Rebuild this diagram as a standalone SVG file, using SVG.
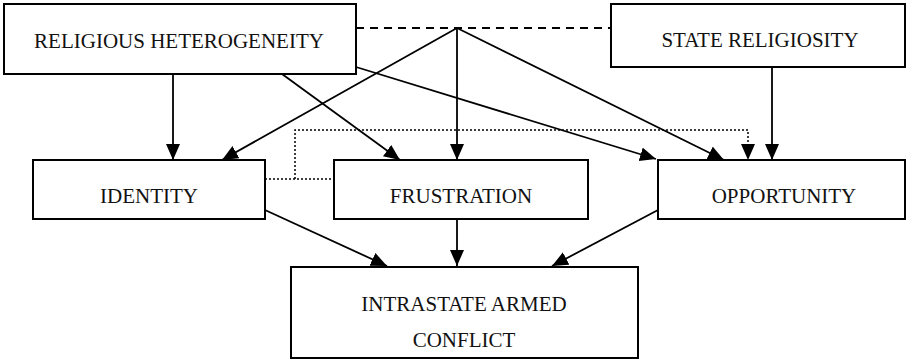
<svg xmlns="http://www.w3.org/2000/svg" width="910" height="362" viewBox="0 0 910 362">
<style>
.box{fill:#fff;stroke:#000;stroke-width:2}
.lbl{font-family:"Liberation Serif","Times New Roman",serif;font-size:21px;fill:#111;text-anchor:middle}
.c{stroke:#000;stroke-width:1.8;fill:none}
.arr{marker-end:url(#ah)}
.dash{stroke-dasharray:8,6}
.dot{stroke-dasharray:2,2;stroke-width:1.5}
</style>
<defs>
<marker id="ah" markerUnits="userSpaceOnUse" markerWidth="17" markerHeight="15" refX="16" refY="7" orient="auto">
<path d="M0,0 L16,7 L0,14 z" fill="#000"/>
</marker>
</defs>
<rect width="910" height="362" fill="#fff"/>
<g id="connectors">
<line class="c dash" x1="356" y1="28" x2="611" y2="28"/>
<line class="c arr" x1="173" y1="74" x2="173" y2="160"/>
<line class="c arr" x1="282" y1="74" x2="400" y2="160"/>
<line class="c arr" x1="356" y1="67" x2="656" y2="159"/>
<line class="c arr" x1="457" y1="28" x2="222" y2="160"/>
<line class="c arr" x1="457" y1="28" x2="457" y2="160"/>
<line class="c arr" x1="457" y1="28" x2="724" y2="160"/>
<line class="c arr" x1="772" y1="67" x2="772" y2="160"/>
<path class="c dot" d="M265,179 H334"/>
<path class="c dot arr" d="M295,179 V130 H748 V160"/>
<line class="c arr" x1="265" y1="210" x2="387" y2="266"/>
<line class="c arr" x1="457" y1="219" x2="457" y2="266"/>
<line class="c arr" x1="658" y1="210" x2="552" y2="266"/>
</g>
<g id="religious-heterogeneity">
<rect class="box" x="4" y="4" width="352" height="70"/>
<text class="lbl" x="179" y="48">RELIGIOUS HETEROGENEITY</text>
</g>
<g id="state-religiosity">
<rect class="box" x="611" y="4" width="294" height="63"/>
<text class="lbl" x="760" y="47">STATE RELIGIOSITY</text>
</g>
<g id="identity">
<rect class="box" x="33" y="160" width="232" height="59"/>
<text class="lbl" x="149" y="203">IDENTITY</text>
</g>
<g id="frustration">
<rect class="box" x="334" y="160" width="254" height="59"/>
<text class="lbl" x="461" y="203">FRUSTRATION</text>
</g>
<g id="opportunity">
<rect class="box" x="658" y="160" width="247" height="59"/>
<text class="lbl" x="784" y="203">OPPORTUNITY</text>
</g>
<g id="intrastate-armed-conflict">
<rect class="box" x="291" y="267" width="347" height="91"/>
<text class="lbl" x="464" y="311">INTRASTATE ARMED</text>
<text class="lbl" x="464" y="347">CONFLICT</text>
</g>
</svg>
